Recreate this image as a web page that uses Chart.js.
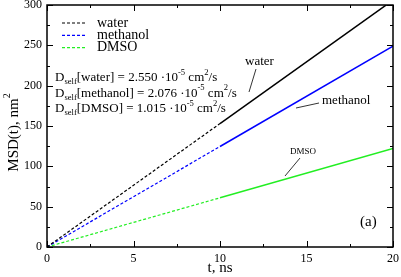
<!DOCTYPE html>
<html>
<head>
  <meta charset="utf-8">
  <title>MSD</title>
  <script src="https://cdn.jsdelivr.net/npm/chart.js@4/dist/chart.umd.min.js"></script>
  <style>
    body { margin: 0; background: #fff; }
    #wrap { width: 401px; height: 277px; }
  </style>
</head>
<body>
  <div id="wrap"><canvas id="chart" width="401" height="277"></canvas></div>
<script>
  // time points (ns) and MSD values (nm^2)
  const times = [0, 10, 20];
  const water = [0, 153, 306];
  const methanol = [0, 124.6, 249];
  const dmso = [0, 61, 122];
  const names = ['water', 'methanol', 'DMSO'];
  const colors = ['#000000', '#0000ff', '#22ee22'];
  const dself = ['2.550', '2.076', '1.015'];

  const serif = '"Liberation Serif", "DejaVu Serif", serif';

  function pts(vals) {
    return times.map((t, i) => ({ x: t, y: vals[i] }));
  }

  function makeSet(label, vals, color) {
    return {
      label: label,
      data: pts(vals),
      borderColor: color,
      borderWidth: 1.5,
      pointRadius: 0,
      tension: 0,
      segment: {
        borderDash: ctx => ctx.p0DataIndex === 0 ? [3, 2] : undefined,
        borderWidth: ctx => ctx.p0DataIndex === 0 ? 1.2 : 1.5
      }
    };
  }

  // draw text with sub/superscript runs: [text, shift] shift: 0 normal, -1 sub, 1 sup
  function runs(c, x, y, parts, size) {
    parts.forEach(p => {
      const s = p[1] === 0 ? size : size * 0.66;
      const dy = p[1] === 1 ? -size * 0.42 : (p[1] === -1 ? size * 0.3 : 0);
      c.font = s + 'px ' + serif;
      c.fillText(p[0], x, y + dy);
      x += c.measureText(p[0]).width;
    });
  }

  const decor = {
    id: 'decor',
    afterDraw(chart) {
      const c = chart.ctx;
      const a = chart.chartArea;
      const xs = chart.scales.x, ys = chart.scales.y;
      c.save();
      // frame
      c.strokeStyle = '#000';
      c.lineWidth = 1.5;
      c.strokeRect(a.left, a.top, a.right - a.left, a.bottom - a.top);
      // inward ticks on all sides
      c.lineWidth = 1;
      c.beginPath();
      for (let v = 0; v <= 20; v += 2.5) {
        const px = Math.round(xs.getPixelForValue(v)) + 0.5;
        const len = v % 5 === 0 ? 6 : 3;
        c.moveTo(px, a.bottom); c.lineTo(px, a.bottom - len);
        c.moveTo(px, a.top); c.lineTo(px, a.top + len);
      }
      for (let v = 0; v <= 300; v += 25) {
        const py = Math.round(ys.getPixelForValue(v)) + 0.5;
        const len = v % 50 === 0 ? 6 : 3;
        c.moveTo(a.left, py); c.lineTo(a.left + len, py);
        c.moveTo(a.right, py); c.lineTo(a.right - len, py);
      }
      c.stroke();

      // y axis title with superscript
      c.save();
      c.translate(14, 131);
      c.rotate(-Math.PI / 2);
      c.textBaseline = 'middle';
      c.fillStyle = '#000';
      c.font = '15px ' + serif;
      const tw = c.measureText('MSD(t), nm').width + 8;
      runs(c, -tw / 2, 0, [['MSD(t), nm', 0], ['2', 1]], 15);
      c.restore();

      // legend
      c.textBaseline = 'middle';
      c.fillStyle = '#000';
      names.forEach((n, i) => {
        const y = 23 + i * 12.3;
        c.strokeStyle = colors[i];
        c.lineWidth = 1.2;
        c.setLineDash([3, 2]);
        c.beginPath();
        c.moveTo(62, y); c.lineTo(86, y);
        c.stroke();
        c.setLineDash([]);
        c.font = '14px ' + serif;
        c.fillText(n, 97, y);
      });

      // D_self lines
      names.forEach((n, i) => {
        const y = 78 + i * 15.5;
        runs(c, 55, y, [['D', 0], ['self', -1], ['[' + n + '] = ' + dself[i] + ' \u00b710', 0],
          ['-5', 1], [' cm', 0], ['2', 1], ['/s', 0]], 13);
      });

      // annotations
      c.font = '13px ' + serif;
      c.fillText('water', 245, 62);
      c.fillText('methanol', 322, 101);
      c.font = '9px ' + serif;
      c.fillText('DMSO', 290, 152);
      c.font = '15px ' + serif;
      c.fillText('(a)', 360, 222);
      c.strokeStyle = '#000';
      c.lineWidth = 0.8;
      c.beginPath();
      c.moveTo(256, 69); c.lineTo(249, 92);
      c.moveTo(319, 103); c.lineTo(296, 108);
      c.moveTo(300, 158); c.lineTo(285, 176);
      c.stroke();
      c.restore();
    }
  };

  new Chart(document.getElementById('chart'), {
    type: 'line',
    data: {
      datasets: [
        makeSet('water', water, colors[0]),
        makeSet('methanol', methanol, colors[1]),
        makeSet('DMSO', dmso, colors[2])
      ]
    },
    options: {
      responsive: false,
      animation: false,
      events: [],
      layout: { padding: { top: 5, right: 8, left: 0, bottom: 0 } },
      plugins: { legend: { display: false }, tooltip: { enabled: false } },
      scales: {
        x: {
          type: 'linear', min: 0, max: 20,
          grid: { display: false, drawTicks: false },
          border: { display: false },
          ticks: { stepSize: 5, color: '#000', padding: 5, font: { family: serif, size: 12 } },
          title: { display: true, text: 't, ns', color: '#000', padding: { top: 1, bottom: 0 }, font: { family: serif, size: 15 } },
          afterFit: s => { s.height = 30; s.paddingLeft = 0; s.paddingRight = 0; }
        },
        y: {
          min: 0, max: 300,
          grid: { display: false, drawTicks: false },
          border: { display: false },
          ticks: { stepSize: 50, color: '#000', padding: 5, font: { family: serif, size: 12 } },
          afterFit: s => { s.width = 47; s.paddingTop = 0; s.paddingBottom = 0; }
        }
      }
    },
    plugins: [decor]
  });
</script>
</body>
</html>
